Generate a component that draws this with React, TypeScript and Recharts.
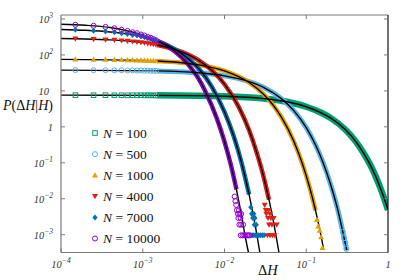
import React from 'react';
import { ComposedChart, Line, Scatter, XAxis, YAxis } from 'recharts';

// ---- axes ----
const xTicks = [1e-4, 1e-3, 1e-2, 1e-1, 1];
const xTopTicks = [1e-3, 1e-2, 1e-1];
const yTicks = [1e3, 1e2, 10, 1, 1e-1, 1e-2, 1e-3];
const xDomain = [1e-4, 1];
const yDomain = [3.2e-4, 1290];

// ---- series meta ----
const nValues = [100, 500, 1000, 4000, 7000, 10000];
const colors = ['#009e73', '#56b4e9', '#e69f00', '#e51e10', '#0072b2', '#9400d3'];
const kinds = ['square', 'circle', 'tri', 'triDown', 'diamond', 'circle'];

// ---- sparse data points (low ΔH bins) ----
const binX = [1.5e-4, 2.5e-4, 3.5e-4, 4.5e-4, 5.5e-4, 6.5e-4, 7.5e-4, 8.5e-4, 9.5e-4, 1.05e-3, 1.15e-3, 1.25e-3, 1.35e-3, 1.45e-3];
const mark100 = [7.62, 7.58, 7.6, 7.55, 7.58, 7.53, 7.57, 7.52, 7.56, 7.5, 7.54, 7.51, 7.53, 7.49];
const mark500 = [37.9, 37.5, 37.7, 37.3, 37.4, 37.0, 37.2, 36.8, 36.9, 36.5, 36.6, 36.3, 36.2, 36.0];
const mark1000 = [75.5, 74.4, 74.2, 73.3, 73.1, 72.1, 72.0, 71.0, 70.9, 70.0, 69.8, 69.0, 68.7, 68.0];
const mark4000 = [281, 275, 264, 259, 250, 245, 235, 230, 222, 217, 209, 205, 197, 193];
const mark7000 = [498, 474, 446, 427, 401, 384, 360, 346, 324, 311, 291, 280, 261, 252];
const mark10000 = [690, 648, 602, 553, 502, 466, 428, 402, 370, 347, 318, 301, 275, 257];

// ---- tail points (low counts) ----
const tail500X = [0.31, 0.3, 0.29, 0.28];
const tail500Y = [4e-4, 6e-4, 8e-4, 1.2e-3];
const tail1000X = [0.158, 0.152, 0.146, 0.14, 0.135];
const tail1000Y = [4.3e-4, 8.6e-4, 1.3e-3, 1.7e-3, 2.6e-3];
const tail4000X = [0.0335, 0.036, 0.0385, 0.041, 0.035, 0.038, 0.0435, 0.034, 0.037, 0.04, 0.0325, 0.036, 0.032, 0.0345, 0.031];
const tail4000Y = [0.00096, 0.00096, 0.00096, 0.00096, 0.0019, 0.0019, 0.0019, 0.0029, 0.0029, 0.0029, 0.0038, 0.0038, 0.0048, 0.0048, 0.0067];
const tail7000X = [0.0218, 0.0228, 0.0238, 0.025, 0.0262, 0.0275, 0.029, 0.0305, 0.0232, 0.0245, 0.0222, 0.0236, 0.0215, 0.0228, 0.021];
const tail7000Y = [0.00096, 0.00096, 0.00096, 0.00096, 0.00096, 0.00096, 0.00096, 0.00096, 0.0019, 0.0019, 0.0029, 0.0029, 0.0038, 0.0038, 0.0058];
const tail10000X = [0.0158, 0.0166, 0.0174, 0.0182, 0.019, 0.0198, 0.0205, 0.0152, 0.016, 0.0169, 0.0148, 0.0157, 0.0146, 0.0153, 0.016, 0.0142, 0.015, 0.0139, 0.0136, 0.0133];
const tail10000Y = [0.00096, 0.00096, 0.00096, 0.00096, 0.00096, 0.00096, 0.00096, 0.0019, 0.0019, 0.0019, 0.0029, 0.0029, 0.0038, 0.0038, 0.0038, 0.0048, 0.0048, 0.0067, 0.0086, 0.0115];

// ---- fitted curves (black lines) ----
const fit100X = [1e-4, 1.5e-3, 1e-2, 3e-2, 6e-2, 0.1, 0.15, 0.2, 0.3, 0.4, 0.5, 0.6, 0.7, 0.8, 0.9, 1.0];
const fit100Y = [7.6, 7.52, 7.06, 6.1, 4.9, 3.62, 2.5, 1.75, 0.84, 0.4, 0.19, 0.092, 0.044, 0.021, 0.0101, 0.0049];
const fit500X = [1e-4, 1.5e-3, 5e-3, 1e-2, 2e-2, 3e-2, 5e-2, 7e-2, 0.1, 0.13, 0.16, 0.2, 0.25, 0.28, 0.313];
const fit500Y = [37.9, 36.0, 31.6, 26.2, 18.1, 12.6, 6.0, 2.87, 0.95, 0.313, 0.104, 0.0237, 0.0038, 0.0012, 3.7e-4];
const fit1000X = [1e-4, 1e-3, 1.5e-3, 3e-3, 5e-3, 1e-2, 2e-2, 3e-2, 4e-2, 5e-2, 7e-2, 0.09, 0.11, 0.13, 0.15, 0.162];
const fit1000Y = [75.4, 70.5, 68.0, 60.8, 52.2, 36.0, 17.1, 8.1, 3.84, 1.82, 0.41, 0.092, 0.0207, 0.0047, 0.00105, 4.3e-4];
const fit4000X = [1e-4, 2e-4, 4e-4, 7e-4, 1e-3, 1.5e-3, 2e-3, 3e-3, 5e-3, 7e-3, 1e-2, 1.5e-2, 2e-2, 2.5e-2, 3e-2, 3.5e-2, 4e-2, 4.65e-2];
const fit4000Y = [286, 278, 262, 240, 220, 189, 163, 121, 67, 37, 15.3, 3.5, 0.8, 0.18, 0.042, 0.0094, 0.0021, 3.1e-4];
const fit7000X = [1e-4, 2e-4, 4e-4, 7e-4, 1e-3, 1.5e-3, 2e-3, 3e-3, 4e-3, 5e-3, 7e-3, 1e-2, 1.3e-2, 1.6e-2, 2e-2, 2.4e-2, 2.72e-2];
const fit7000Y = [512, 485, 436, 372, 318, 243, 186, 109, 64, 38, 13, 2.6, 0.54, 0.11, 0.0131, 0.0016, 3.0e-4];
const fit10000X = [1e-4, 2e-4, 4e-4, 7e-4, 1e-3, 1.5e-3, 2e-3, 3e-3, 4e-3, 5e-3, 6e-3, 8e-3, 1e-2, 1.2e-2, 1.4e-2, 1.6e-2, 1.8e-2, 1.97e-2];
const fit10000Y = [715, 670, 578, 448, 358, 248, 175, 85, 40, 19, 8.4, 1.8, 0.39, 0.085, 0.018, 0.0039, 8.5e-4, 3.1e-4];

const toPts = (xs: number[], ys: number[]) => xs.map((x, i) => ({ x, y: ys[i] }));

const marks = [mark100, mark500, mark1000, mark4000, mark7000, mark10000];
const tails = [
  toPts([], []),
  toPts(tail500X, tail500Y),
  toPts(tail1000X, tail1000Y),
  toPts(tail4000X, tail4000Y),
  toPts(tail7000X, tail7000Y),
  toPts(tail10000X, tail10000Y),
];
const fits = [
  toPts(fit100X, fit100Y),
  toPts(fit500X, fit500Y),
  toPts(fit1000X, fit1000Y),
  toPts(fit4000X, fit4000Y),
  toPts(fit7000X, fit7000Y),
  toPts(fit10000X, fit10000Y),
];
const bandMinY = [0, 0, 0.0015, 0.004, 0.004, 0.004];
const bandWidth = [6.5, 5, 4.5, 4.5, 4.5, 4.5];

const SERIF = '"Liberation Serif", "DejaVu Serif", serif';
const AX = '#7a7a7a';

function Glyph({ cx, cy, kind, color }: any) {
  if (cx == null || cy == null) return null;
  const s = 2.3;
  switch (kind) {
    case 'square':
      return <rect x={cx - s} y={cy - s} width={2 * s} height={2 * s} fill="none" stroke={color} strokeWidth={1} />;
    case 'circle':
      return <circle cx={cx} cy={cy} r={s + 0.2} fill="none" stroke={color} strokeWidth={1} />;
    case 'tri':
      return <path d={`M${cx},${cy - 3} L${cx + 3},${cy + 2.2} L${cx - 3},${cy + 2.2} Z`} fill={color} />;
    case 'triDown':
      return <path d={`M${cx},${cy + 3} L${cx + 3},${cy - 2.2} L${cx - 3},${cy - 2.2} Z`} fill={color} />;
    case 'diamond':
      return <path d={`M${cx},${cy - 3} L${cx + 2.6},${cy} L${cx},${cy + 3} L${cx - 2.6},${cy} Z`} fill={color} />;
    default:
      return null;
  }
}

function powLabel(v: number) {
  const e = Math.round(Math.log10(v));
  if (e === 0) return { base: '1', sup: '', e };
  if (e === 1) return { base: '10', sup: '', e };
  return { base: '10', sup: e < 0 ? '\u2212' + String(-e) : String(e), e };
}

function BottomTick(props: any) {
  const { x, payload } = props;
  const yAxisLine = 252.5;
  const { base, sup } = powLabel(payload.value);
  return (
    <g>
      <line x1={x} y1={yAxisLine} x2={x} y2={yAxisLine - 4} stroke={AX} strokeWidth={1} />
      <text x={x} y={yAxisLine + 15} textAnchor="middle" fontFamily={SERIF} fontStyle="italic" fontSize={10.5} fill="#333">
        {base}
        {sup ? <tspan dy={-4.5} fontSize={7.5}>{sup}</tspan> : null}
      </text>
    </g>
  );
}

function TopTick(props: any) {
  const { x } = props;
  return <line x1={x} y1={15} x2={x} y2={19} stroke={AX} strokeWidth={1} />;
}

function LeftTick(props: any) {
  const { y, payload } = props;
  const xAxisLine = 61;
  const { base, sup, e } = powLabel(payload.value);
  const right = e === 1 ? xAxisLine - 12 : xAxisLine - 8;
  return (
    <g>
      <line x1={xAxisLine} y1={y} x2={xAxisLine + 4} y2={y} stroke={AX} strokeWidth={1} />
      <text x={right} y={y + 3.8} textAnchor="end" fontFamily={SERIF} fontStyle="italic" fontSize={10.5} fill="#333">
        {base}
        {sup ? <tspan dy={-4.5} fontSize={7.5}>{sup}</tspan> : null}
      </text>
    </g>
  );
}

function RightTick(props: any) {
  const { y } = props;
  return <line x1={388} y1={y} x2={384} y2={y} stroke={AX} strokeWidth={1} />;
}

export default function App() {
  return (
    <div style={{ position: 'absolute', left: 0, top: 0, width: 415, height: 280, background: '#fff' }}>
      <ComposedChart width={415} height={280} margin={{ top: 0, right: 0, bottom: 0, left: 0 }}>
        <XAxis
          xAxisId={0}
          dataKey="x"
          type="number"
          scale="log"
          domain={xDomain}
          allowDataOverflow
          ticks={xTicks}
          interval={0}
          height={27.5}
          axisLine={{ stroke: AX, strokeWidth: 1.2 }}
          tickLine={false}
          tickSize={0}
          tick={<BottomTick />}
        />
        <XAxis
          xAxisId="top"
          orientation="top"
          dataKey="x"
          type="number"
          scale="log"
          domain={xDomain}
          allowDataOverflow
          ticks={xTopTicks}
          interval={0}
          height={15}
          axisLine={{ stroke: AX, strokeWidth: 1.2 }}
          tickLine={false}
          tickSize={0}
          tick={<TopTick />}
        />
        <YAxis
          yAxisId={0}
          dataKey="y"
          type="number"
          scale="log"
          domain={yDomain}
          allowDataOverflow
          ticks={yTicks}
          interval={0}
          width={61}
          axisLine={{ stroke: AX, strokeWidth: 1.2 }}
          tickLine={false}
          tickSize={0}
          tick={<LeftTick />}
        />
        <YAxis
          yAxisId="right"
          orientation="right"
          dataKey="y"
          type="number"
          scale="log"
          domain={yDomain}
          allowDataOverflow
          ticks={yTicks}
          interval={0}
          width={27}
          axisLine={{ stroke: '#111', strokeWidth: 1.2 }}
          tickLine={false}
          tickSize={0}
          tick={<RightTick />}
        />

        {fits.map((pts, i) => (
          <Line
            key={'band' + i}
            data={pts.filter((p) => p.x >= 1.4e-3 && p.y >= bandMinY[i])}
            dataKey="y"
            type="monotone"
            stroke={colors[i]}
            strokeWidth={bandWidth[i]}
            strokeLinejoin="round"
            dot={false}
            activeDot={false}
            isAnimationActive={false}
          />
        ))}
        {marks.map((ys, i) => (
          <Scatter
            key={'mark' + i}
            data={toPts(binX, ys)}
            dataKey="y"
            isAnimationActive={false}
            shape={(p: any) => <Glyph cx={p.cx} cy={p.cy} kind={kinds[i]} color={colors[i]} />}
          />
        ))}
        {tails.map((pts, i) => (
          <Scatter
            key={'tail' + i}
            data={pts}
            dataKey="y"
            isAnimationActive={false}
            shape={(p: any) => <Glyph cx={p.cx} cy={p.cy} kind={kinds[i]} color={colors[i]} />}
          />
        ))}
        {fits.map((pts, i) => (
          <Line
            key={'fit' + i}
            data={pts}
            dataKey="y"
            type="monotone"
            stroke="#000"
            strokeWidth={1.4}
            dot={false}
            activeDot={false}
            isAnimationActive={false}
          />
        ))}
      </ComposedChart>
      <svg width={415} height={280} style={{ position: 'absolute', left: 0, top: 0, pointerEvents: 'none' }}>
        <text x={3} y={110} fontFamily={SERIF} fontSize={14} fill="#111">
          <tspan fontStyle="italic">P</tspan>
          <tspan>(Δ</tspan>
          <tspan fontStyle="italic">H</tspan>
          <tspan>|</tspan>
          <tspan fontStyle="italic">H</tspan>
          <tspan>)</tspan>
        </text>
        <text x={258} y={275} fontFamily={SERIF} fontSize={14.5} fill="#111">
          <tspan>Δ</tspan>
          <tspan fontStyle="italic">H</tspan>
        </text>
        {nValues.map((n, i) => {
          const cy = 133 + 21.1 * i;
          return (
            <g key={'lg' + i}>
              <Glyph cx={95} cy={cy} kind={kinds[i]} color={colors[i]} />
              <text x={103} y={cy + 4.5} fontFamily={SERIF} fontSize={13.5} fill="#111">
                <tspan fontStyle="italic">N</tspan>
                <tspan>{' = '}</tspan>
                <tspan>{String(n)}</tspan>
              </text>
            </g>
          );
        })}
      </svg>
    </div>
  );
}
